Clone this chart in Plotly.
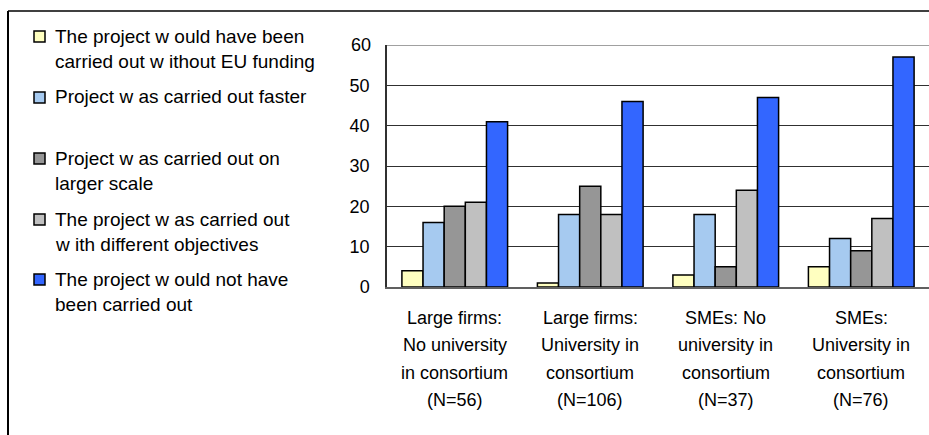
import plotly.graph_objects as go

# ---- data -------------------------------------------------------------
category_lines = [
    ["Large firms:", "No university", "in consortium", "(N=56)"],
    ["Large firms:", "University in", "consortium", "(N=106)"],
    ["SMEs: No", "university in", "consortium", "(N=37)"],
    ["SMEs:", "University in", "consortium", "(N=76)"],
]
categories = [" ".join(lines) for lines in category_lines]

series_lines = [
    ["The project w ould have been", "carried out w ithout EU funding"],
    ["Project w as carried out faster"],
    ["Project w as carried out on", "larger scale"],
    ["The project w as carried out", "w ith different objectives"],
    ["The project w ould not have", "been carried out"],
]
series_names = [" ".join(lines) for lines in series_lines]

without_eu = [4, 1, 3, 5]
faster = [16, 18, 18, 12]
larger_scale = [20, 25, 5, 9]
different_obj = [21, 18, 24, 17]
not_carried = [41, 46, 47, 57]
series_values = [without_eu, faster, larger_scale, different_obj, not_carried]

y_ticks = [0, 10, 20, 30, 40, 50, 60]

# ---- styling ----------------------------------------------------------
colors = ["#FFFFC0", "#A6CAF0", "#969696", "#C0C0C0", "#3366FF"]
FONT = "Liberation Sans, Arial, sans-serif"
W, H = 929, 435
L, R, T, B = 387, 0, 45, 148
PW, PH = W - L - R, H - T - B


def px_x(px):
    return (px - L) / PW


def px_y(py):
    return (H - B - py) / PH


fig = go.Figure()
for name, vals, col in zip(series_names, series_values, colors):
    fig.add_trace(go.Bar(
        x=categories, y=vals, name=name,
        marker=dict(color=col, line=dict(color="#000000", width=1.5)),
        showlegend=False,
    ))

annotations = []
shapes = []

# category labels, one line each
line_centres = [317.5, 345, 372.5, 400]
for cat, lines in zip(categories, category_lines):
    for text, yc in zip(lines, line_centres):
        annotations.append(dict(
            x=cat, xref="x", y=px_y(yc), yref="paper", text=text,
            showarrow=False, xanchor="center", yanchor="middle",
            font=dict(family=FONT, size=18, color="#000000"),
        ))

# legend drawn on the left side
item_tops = [36, 97, 158, 219, 279]
for lines, col, y0 in zip(series_lines, colors, item_tops):
    shapes.append(dict(
        type="rect", xref="paper", yref="paper",
        x0=px_x(34), x1=px_x(45), y0=px_y(y0 - 5), y1=px_y(y0 + 6),
        fillcolor=col, line=dict(color="#000000", width=1.5),
    ))
    for i, text in enumerate(lines):
        annotations.append(dict(
            x=px_x(53), xref="paper", y=px_y(y0 + 25.5 * i), yref="paper",
            text=text, showarrow=False, xanchor="left", yanchor="middle",
            font=dict(family=FONT, size=19, color="#000000"),
        ))

# outer frame (top and left edges) and top boundary of the plot area
shapes += [
    dict(type="line", xref="paper", yref="paper",
         x0=px_x(8), x1=px_x(W), y0=px_y(11), y1=px_y(11),
         line=dict(color="#000000", width=1.5)),
    dict(type="line", xref="paper", yref="paper",
         x0=px_x(8), x1=px_x(8), y0=px_y(11), y1=px_y(H + 2),
         line=dict(color="#000000", width=2)),
    dict(type="line", xref="paper", yref="y",
         x0=0, x1=1, y0=60, y1=60,
         line=dict(color="#A0A0A0", width=2)),
]

fig.update_layout(
    width=W, height=H, autosize=False,
    margin=dict(l=L, r=R, t=T, b=B, pad=0),
    paper_bgcolor="#FFFFFF", plot_bgcolor="#FFFFFF",
    barmode="group", bargap=0.22, bargroupgap=0,
    font=dict(family=FONT, size=18, color="#000000"),
    annotations=annotations, shapes=shapes,
    xaxis=dict(
        showticklabels=False, ticks="", showgrid=False, zeroline=False,
        showline=True, linecolor="#606060", linewidth=2,
    ),
    yaxis=dict(
        range=[0, 60], tickvals=y_ticks[:-1], ticks="",
        ticklabelstandoff=12,
        tickfont=dict(family=FONT, size=18, color="#000000"),
        showgrid=True, gridcolor="#303030", gridwidth=1,
        zeroline=False, showline=True, linecolor="#303030", linewidth=1.5,
    ),
)

# the top tick label sits on the gray boundary line
fig.add_annotation(
    x=0, xref="paper", xshift=-14, y=y_ticks[-1], yref="y",
    text=str(y_ticks[-1]), showarrow=False, xanchor="right", yanchor="middle",
    font=dict(family=FONT, size=18, color="#000000"),
)

fig.write_html("out.html")
